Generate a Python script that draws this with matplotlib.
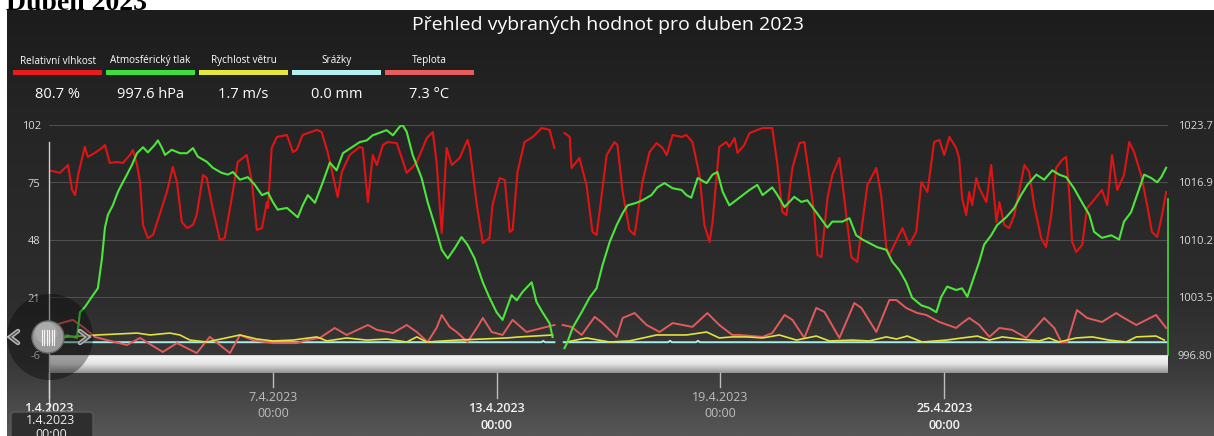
import matplotlib.pyplot as plt
import matplotlib.dates as mdates
import matplotlib.transforms as mtransforms
from matplotlib.patches import Circle, FancyBboxPatch, Rectangle
import numpy as np
import pandas as pd

plt.rcParams['font.family'] = ['Open Sans', 'DejaVu Sans']

W, H = 1214, 436
start = pd.Timestamp('2023-04-01')
gap_day = 13.65  # chybějící data

# (den od 1.4. 00:00, hodnota)
humidity = [(0.0, 80.7), (0.16, 80.1), (0.29, 79.5), (0.51, 83.2), (0.62, 71.5), (0.70, 69.1),
            (0.78, 78.5), (0.96, 91.7), (1.04, 87.0), (1.23, 88.9), (1.42, 91.2), (1.50, 92.6),
            (1.63, 84.2), (1.82, 84.6), (1.98, 84.2), (2.17, 87.9), (2.25, 90.3), (2.36, 83.2),
            (2.44, 75.2), (2.52, 55.1), (2.65, 48.9), (2.79, 50.4), (3.16, 70.5), (3.32, 82.3),
            (3.43, 75.2), (3.56, 56.5), (3.70, 53.6), (3.86, 55.1), (3.96, 59.7), (4.13, 78.5),
            (4.23, 77.1), (4.37, 64.4), (4.58, 48.0), (4.71, 48.9), (4.90, 67.7), (5.06, 84.6),
            (5.30, 87.9), (5.44, 75.2), (5.57, 52.7), (5.71, 53.6), (5.84, 65.8), (5.87, 63.0),
            (5.97, 91.2), (6.11, 96.4), (6.38, 97.3), (6.54, 89.3), (6.64, 90.3), (6.80, 97.3),
            (7.18, 99.7), (7.31, 98.7), (7.47, 89.3), (7.61, 78.5), (7.74, 68.2), (7.85, 79.9),
            (8.06, 87.9), (8.33, 91.7), (8.41, 91.2), (8.55, 65.8), (8.68, 87.9), (8.79, 83.2),
            (8.95, 92.6), (9.08, 94.0), (9.32, 93.5), (9.46, 86.5), (9.59, 79.5), (9.75, 82.3),
            (9.86, 84.6), (10.13, 95.9), (10.29, 98.7), (10.39, 84.6), (10.53, 51.3), (10.66, 91.2),
            (10.80, 83.2), (11.01, 86.5), (11.22, 95.0), (11.28, 91.2), (11.47, 64.4), (11.63, 46.6),
            (11.81, 48.9), (11.89, 64.4), (12.08, 77.1), (12.22, 76.2), (12.35, 51.8), (12.43, 52.7),
            (12.56, 79.9), (12.75, 94.0), (12.97, 96.4), (13.21, 100.6), (13.42, 99.7), (13.55, 91.2),
            (13.82, 98.2), (13.96, 96.4), (14.01, 81.8), (14.22, 86.5), (14.41, 73.8), (14.57, 51.8),
            (14.68, 50.4), (14.76, 61.2), (14.95, 87.9), (15.16, 94.0), (15.24, 92.6), (15.38, 70.5),
            (15.56, 52.7), (15.70, 50.4), (15.91, 75.2), (16.10, 89.3), (16.29, 93.5), (16.45, 91.2),
            (16.56, 87.9), (16.72, 97.3), (16.96, 96.4), (17.09, 97.3), (17.25, 94.0), (17.44, 78.5),
            (17.57, 55.1), (17.71, 47.1), (17.79, 56.5), (17.97, 91.7), (18.16, 94.0), (18.24, 91.7),
            (18.38, 95.9), (18.46, 88.9), (18.64, 92.6), (18.78, 98.2), (19.13, 100.6), (19.39, 100.6),
            (19.53, 83.2), (19.66, 61.2), (19.77, 59.7), (19.93, 81.8), (20.12, 93.5), (20.25, 94.0),
            (20.39, 77.1), (20.52, 59.7), (20.60, 41.0), (20.71, 40.0), (20.87, 67.7), (21.00, 78.5),
            (21.19, 86.5), (21.32, 67.7), (21.51, 40.0), (21.67, 37.7), (21.81, 56.5), (21.94, 73.8),
            (22.18, 81.8), (22.31, 69.1), (22.45, 44.3), (22.53, 41.0), (22.66, 45.7), (22.88, 53.6),
            (23.06, 45.7), (23.25, 51.8), (23.39, 75.2), (23.55, 70.5), (23.73, 94.0), (23.87, 95.0),
            (24.00, 87.9), (24.14, 96.4), (24.32, 91.2), (24.40, 86.5), (24.48, 67.7), (24.59, 59.7),
            (24.67, 70.5), (24.75, 64.4), (24.86, 77.1), (24.94, 72.4), (25.13, 65.8), (25.26, 83.2),
            (25.40, 56.5), (25.48, 65.8), (25.61, 55.1), (25.74, 53.6), (25.88, 59.7), (26.06, 75.2),
            (26.15, 83.2), (26.28, 79.9), (26.41, 64.4), (26.60, 48.9), (26.73, 44.7), (26.87, 59.7),
            (27.00, 81.8), (27.16, 85.6), (27.27, 87.0), (27.35, 70.5), (27.43, 47.1), (27.54, 42.4),
            (27.70, 45.7), (27.83, 63.0), (27.97, 65.8), (28.23, 71.5), (28.37, 64.4), (28.50, 87.9),
            (28.64, 71.5), (28.82, 78.5), (28.96, 94.0), (29.09, 89.3), (29.28, 78.5), (29.44, 64.4),
            (29.57, 51.8), (29.71, 49.4), (29.84, 59.7), (29.95, 70.5)]

pressure = [(0.0, 997.6), (0.48, 999.1), (0.75, 998.8), (0.83, 1001.8), (0.96, 1002.4), (1.18, 1003.8),
            (1.31, 1004.6), (1.42, 1008.1), (1.50, 1011.7), (1.58, 1013.2), (1.71, 1014.3), (1.85, 1015.9),
            (1.98, 1017.0), (2.09, 1017.9), (2.22, 1019.0), (2.36, 1020.4), (2.52, 1021.1), (2.65, 1020.5),
            (2.84, 1021.4), (2.92, 1021.9), (3.03, 1021.0), (3.11, 1020.2), (3.29, 1020.8), (3.51, 1020.4),
            (3.70, 1020.4), (3.86, 1021.0), (3.99, 1020.0), (4.23, 1019.4), (4.39, 1018.7), (4.63, 1018.1),
            (4.80, 1017.9), (4.93, 1018.2), (5.12, 1017.3), (5.33, 1017.6), (5.52, 1016.7), (5.71, 1015.5),
            (5.87, 1015.8), (6.00, 1014.7), (6.13, 1013.8), (6.38, 1014.0), (6.51, 1013.5), (6.67, 1012.9),
            (6.80, 1014.3), (6.94, 1015.5), (7.13, 1014.6), (7.34, 1017.0), (7.53, 1019.3), (7.71, 1018.4),
            (7.88, 1020.4), (8.12, 1021.1), (8.33, 1021.7), (8.52, 1021.9), (8.68, 1022.5), (8.87, 1022.8),
            (9.05, 1023.1), (9.22, 1022.5), (9.40, 1023.5), (9.48, 1023.7), (9.59, 1022.9), (9.75, 1020.2),
            (9.99, 1017.5), (10.15, 1014.7), (10.34, 1012.0), (10.53, 1009.1), (10.69, 1008.1),
            (10.88, 1009.3), (11.06, 1010.6), (11.22, 1009.7), (11.41, 1008.1), (11.63, 1005.3),
            (11.81, 1003.5), (12.00, 1001.8), (12.16, 1000.9), (12.30, 1002.6), (12.40, 1003.8),
            (12.54, 1003.2), (12.70, 1004.2), (12.94, 1005.3), (13.07, 1003.0), (13.23, 1001.8),
            (13.42, 1000.5), (13.50, 998.9),
            (13.82, 997.6), (13.90, 998.3), (14.04, 1000.0), (14.28, 1001.8), (14.49, 1003.5),
            (14.68, 1004.6), (14.84, 1007.3), (15.03, 1010.0), (15.22, 1012.0), (15.38, 1013.4),
            (15.51, 1014.3), (15.75, 1014.6), (15.91, 1014.9), (16.15, 1015.5), (16.31, 1016.4),
            (16.50, 1016.9), (16.72, 1016.3), (16.96, 1016.1), (17.09, 1015.5), (17.22, 1015.2),
            (17.39, 1017.5), (17.63, 1016.9), (17.79, 1017.9), (17.92, 1018.2), (18.06, 1015.9),
            (18.24, 1014.3), (18.51, 1015.2), (18.78, 1016.1), (18.99, 1016.7), (19.13, 1015.5),
            (19.39, 1016.4), (19.53, 1015.5), (19.72, 1014.1), (19.98, 1015.3), (20.17, 1014.7),
            (20.33, 1014.9), (20.57, 1013.5), (20.87, 1011.7), (21.00, 1012.4), (21.27, 1012.4),
            (21.46, 1012.8), (21.64, 1010.8), (21.81, 1010.3), (21.99, 1009.9), (22.21, 1009.4),
            (22.45, 1009.1), (22.61, 1007.7), (22.80, 1006.7), (22.98, 1005.3), (23.14, 1003.5),
            (23.39, 1002.6), (23.60, 1002.3), (23.79, 1001.8), (23.92, 1003.6), (24.08, 1004.8),
            (24.32, 1004.4), (24.48, 1004.6), (24.62, 1003.6), (24.75, 1005.3), (24.94, 1007.7),
            (25.07, 1009.7), (25.26, 1010.8), (25.42, 1012.0), (25.66, 1012.9), (25.88, 1014.0),
            (26.06, 1015.5), (26.23, 1016.7), (26.47, 1017.9), (26.68, 1017.3), (26.90, 1018.4),
            (27.08, 1017.9), (27.27, 1017.6), (27.48, 1016.3), (27.70, 1014.6), (27.89, 1013.2),
            (28.02, 1011.2), (28.23, 1010.5), (28.48, 1010.8), (28.69, 1010.3), (28.82, 1012.4),
            (29.01, 1013.5), (29.17, 1015.5), (29.36, 1017.9), (29.55, 1017.5), (29.71, 1017.0),
            (29.82, 1017.6), (29.95, 1018.7)]

temperature = [(0.0, 7.3), (0.43, 9.5), (0.64, 10.5), (0.91, 7.2), (1.23, 2.5), (1.55, 1.0), (2.09, -1.3),
               (2.44, 2.0), (3.05, -4.6), (3.43, -0.4), (3.96, -5.1), (4.31, 2.5), (4.85, -5.1),
               (5.12, 3.4), (5.46, 1.0), (6.00, -0.4), (6.64, -0.4), (6.91, 1.0), (7.26, 2.0), (7.66, 6.7),
               (7.98, 3.4), (8.55, 8.1), (8.79, 5.8), (9.22, 4.3), (9.59, 8.1), (9.86, 4.8), (10.15, 0.1),
               (10.39, 6.7), (10.53, 12.8), (10.74, 7.2), (10.93, 4.8), (11.22, 0.1), (11.47, 6.7),
               (11.63, 11.4), (11.87, 4.8), (12.16, 3.4), (12.43, 10.5), (12.80, 4.8), (13.23, 6.7),
               (13.55, 8.1), (13.77, 8.1), (14.01, 7.2), (14.28, 3.4), (14.63, 11.9), (14.84, 9.0),
               (15.22, 2.5), (15.38, 11.4), (15.70, 13.7), (16.02, 8.1), (16.37, 4.8), (16.72, 9.0),
               (17.25, 7.2), (17.65, 13.7), (17.97, 8.1), (18.32, 3.4), (18.51, 3.4), (19.13, 2.5),
               (19.39, 4.3), (19.72, 12.8), (19.93, 10.5), (20.25, 2.0), (20.57, 16.1), (20.79, 14.2),
               (21.19, 2.0), (21.59, 18.4), (21.78, 16.1), (22.18, 4.8), (22.53, 19.8), (22.72, 19.8),
               (22.98, 16.1), (23.28, 13.7), (23.52, 12.8), (23.87, 9.5), (24.32, 6.7), (24.48, 9.0),
               (24.67, 11.4), (24.94, 8.1), (25.21, 2.5), (25.48, 6.7), (25.82, 5.8), (26.20, 2.0),
               (26.68, 11.4), (26.95, 6.7), (27.14, 0.1), (27.30, 0.1), (27.56, 15.1), (27.83, 11.4),
               (28.23, 9.5), (28.61, 13.7), (28.77, 11.9), (29.15, 8.1), (29.68, 12.8), (29.95, 6.7)]

wind = [(0.0, 1.7), (0.48, 2.5), (1.29, 3.4), (2.36, 4.3), (2.71, 3.4), (3.24, 4.3), (3.51, 3.4),
        (3.78, 1.0), (4.23, 0.1), (5.12, 3.4), (5.57, 1.5), (6.00, 0.6), (6.54, 1.0), (7.18, 2.5),
        (7.45, 0.6), (7.98, 2.0), (8.52, 1.0), (9.05, 1.5), (9.59, 0.1), (9.86, 2.5), (10.13, 0.1),
        (10.93, 1.0), (11.63, 1.5), (12.27, 2.0), (12.62, 2.5), (13.50, 3.4), (13.88, 0.1),
        (14.41, 2.0), (15.03, 0.1), (15.56, 0.6), (16.29, 3.4), (17.09, 3.4), (17.63, 4.8),
        (17.97, 2.0), (18.32, 2.5), (18.70, 2.5), (19.13, 2.0), (19.58, 3.4), (20.04, 1.0),
        (20.57, 2.9), (20.92, 0.6), (21.54, 1.0), (21.99, 0.6), (22.45, 2.5), (22.72, 1.5),
        (23.01, 2.9), (23.41, 0.1), (24.06, 1.0), (24.48, 2.0), (24.89, 2.9), (25.21, 1.0),
        (25.56, 2.5), (26.01, 1.5), (26.55, 0.6), (26.81, 2.0), (27.08, 0.1), (27.54, 2.0),
        (27.97, 2.5), (28.42, 1.0), (28.88, 0.1), (29.15, 2.5), (29.68, 2.9), (29.90, 1.0)]

rain = [(0.0, 0.0), (13.2, 0.0), (13.25, 0.6), (13.3, 0.0), (13.55, 0.0), (13.8, 0.0), (16.6, 0.0),
        (16.65, 0.7), (16.7, 0.0), (17.35, 0.0), (17.4, 0.7), (17.45, 0.0), (29.97, 0.0)]

legend_names = ['Relativní vlhkost', 'Atmosférický tlak', 'Rychlost větru', 'Srážky', 'Teplota']
legend_values = ['80.7 %', '997.6 hPa', '1.7 m/s', '0.0 mm', '7.3 °C']
legend_colors = ['#e81c1c', '#3ee03e', '#e6e63c', '#b4f0f0', '#e85c5c']

left_ticks = [-6, 21, 48, 75, 102]
right_ticks = [996.8, 1003.525, 1010.25, 1016.975, 1023.7]
right_labels = ['996.80', '1003.5', '1010.2', '1016.9', '1023.7']
tick_days = [0, 6, 12, 18, 24]


def series(pairs):
    d, v = np.array(pairs, dtype=float).T
    i = np.searchsorted(d, gap_day)
    d = np.insert(d, i, gap_day)
    v = np.insert(v, i, np.nan)
    t = mdates.date2num((start + pd.to_timedelta(d, unit='D')).to_pydatetime())
    return t, v


fig = plt.figure(figsize=(W / 100, H / 100), dpi=100, facecolor='white')

# pozadí panelu
bg = fig.add_axes([0, 0, 1, 1], zorder=0)
bg.set_xlim(0, W)
bg.set_ylim(H, 0)
bg.axis('off')
ys = np.arange(11, H + 1)
stop_y = [11, 120, 300, 370, 436]
stop_c = [(0x1c, 0x1c, 0x1c), (0x25, 0x25, 0x25), (0x2d, 0x2d, 0x2d), (0x3a, 0x3a, 0x3a), (0x57, 0x57, 0x57)]
img = np.zeros((len(ys), 1, 3))
for k in range(3):
    img[:, 0, k] = np.interp(ys, stop_y, [c[k] for c in stop_c]) / 255
bg.imshow(img, extent=(7, W, H, 11), aspect='auto', interpolation='bilinear', zorder=1)
bg.text(6, 10, 'Duben 2023', fontsize=20, fontweight='bold', family='Liberation Serif',
        color='black', va='baseline', ha='left', zorder=0)

# hlavní graf
ax = fig.add_axes([49 / W, 1 - 355 / H, 1119 / W, 230 / H], zorder=5)
ax.patch.set_visible(False)
t0 = mdates.date2num(start.to_pydatetime())
t1 = mdates.date2num((start + pd.Timedelta(days=30)).to_pydatetime())
ax.set_xlim(t0, t1)
ax.set_ylim(-6, 102)
ax.set_yticks(left_ticks)
ax.set_yticklabels([str(v) for v in left_ticks])
ax.tick_params(axis='y', colors='#d8d8d8', labelsize=8, length=0, pad=6)
ax.tick_params(axis='x', bottom=False, labelbottom=False)
ax.grid(axis='y', color='#4e4e4e', lw=0.8)
ax.set_axisbelow(True)
for s in ax.spines.values():
    s.set_visible(False)

ax.plot(*series(rain), color='#a8ecec', lw=1.4, zorder=2)
ax.plot(*series(temperature), color='#e35a5a', lw=1.4, zorder=3)
ax.plot(*series(wind), color='#e2e23a', lw=1.2, zorder=4)
ax.plot(*series(humidity), color='#e01414', lw=1.5, zorder=5)

ax2 = ax.twinx()
ax2.set_zorder(6)
ax2.patch.set_visible(False)
ax2.set_ylim(996.8, 1023.7)
ax2.set_yticks(right_ticks)
ax2.set_yticklabels(right_labels)
ax2.tick_params(axis='y', colors='#d8d8d8', labelsize=8, length=0, pad=7)
for name, s in ax2.spines.items():
    s.set_visible(name == 'right')
ax2.spines['right'].set_color('#46d83a')
ax2.spines['right'].set_linewidth(1.2)
ax2.spines['right'].set_bounds(996.8, 1015.0)
ax2.plot(*series(pressure), color='#4ce63c', lw=1.5)

# posuvník
sb = fig.add_axes([49 / W, 1 - 373 / H, 1119 / W, 18 / H], zorder=7)
sb.axis('off')
gy = np.linspace(0, 1, 40)
gv = np.interp(gy, [0, 0.12, 0.5, 1.0], [0.72, 0.96, 0.90, 0.58])
sb.imshow(np.repeat(gv[:, None, None], 3, axis=2), aspect='auto', extent=(0, 1, 0, 1),
          interpolation='bilinear')

# popisky, legenda, ovladač
fg = fig.add_axes([0, 0, 1, 1], zorder=10)
fg.set_xlim(0, W)
fg.set_ylim(H, 0)
fg.axis('off')
fg.patch.set_alpha(0)

fg.text(608, 25, 'Přehled vybraných hodnot pro duben 2023', color='white', fontsize=14,
        ha='center', va='center')

for i, (name, val, col) in enumerate(zip(legend_names, legend_values, legend_colors)):
    x0 = 13 + i * 93
    fg.add_patch(Rectangle((x0, 70), 89, 5, color=col, lw=0))
    fg.text(x0 + 44.5, 61, name, color='white', fontsize=7.2,
            family=['Liberation Sans Narrow', 'Open Sans'], ha='center', va='center')
    fg.text(x0 + 44.5, 94, val, color='white', fontsize=10.5, ha='center', va='center')

blend = mtransforms.blended_transform_factory(ax.transData, fg.transData)
for j, d in enumerate(tick_days):
    tx = mdates.date2num((start + pd.Timedelta(days=d)).to_pydatetime())
    lab = (start + pd.Timedelta(days=d)).strftime('%-d.%-m.%Y')
    if j % 2 == 0:
        y_end, y1, y2, col, fw = 398, 408, 425, '#f2f2f2', 'semibold'
    else:
        y_end, y1, y2, col, fw = 387, 397, 413, '#bdbdbd', 'normal'
    fg.plot([tx, tx], [373, y_end], color='#bdbdbd', lw=1, transform=blend)
    fg.text(tx, y1, lab, color=col, fontsize=9, fontweight=fw, ha='center', va='center',
            transform=blend, zorder=3)
    if j > 0:
        fg.text(tx, y2, '00:00', color=col, fontsize=9, fontweight=fw, ha='center', va='center',
                transform=blend, zorder=3)

fg.plot([t0, t0], [142, 410], color='#d0d0d0', lw=1, transform=blend)

fg.add_patch(Circle((50, 337), 43, color='black', alpha=0.35, lw=0, zorder=4))
fg.add_patch(Circle((48, 337), 16, fc='#9a9a9a', ec='#6a6a6a', lw=1, zorder=5))
fg.add_patch(Circle((46, 333), 11, fc='#b8b8b8', ec='none', alpha=0.6, zorder=5))
for sx in np.arange(42, 55, 2.4):
    fg.plot([sx, sx], [330, 345], color='#f4f4f4', lw=0.8, zorder=6)

# šipky posuvníku
for cx, sgn in [(14, 1), (84, -1)]:
    px = [cx + 4 * sgn, cx - 4 * sgn, cx + 4 * sgn]
    py = [331, 337, 343]
    fg.plot(px, py, color='#b4b4b4', lw=3.2, solid_capstyle='round', solid_joinstyle='miter', zorder=7)
    fg.plot(px, py, color='#555555', lw=1.0, solid_capstyle='round', solid_joinstyle='miter', zorder=8)

fg.add_patch(FancyBboxPatch((11, 412), 82, 30, boxstyle='round,pad=0,rounding_size=4',
                            fc='#2e2e2e', ec='#5a5a5a', lw=1, zorder=8))
fg.text(51, 420, '1.4.2023', color='#eeeeee', fontsize=9, ha='center', va='center', zorder=9)
fg.text(51, 434, '00:00', color='#eeeeee', fontsize=9, ha='center', va='center', zorder=9)

fig.savefig('out.png', dpi=100, facecolor=fig.get_facecolor())
